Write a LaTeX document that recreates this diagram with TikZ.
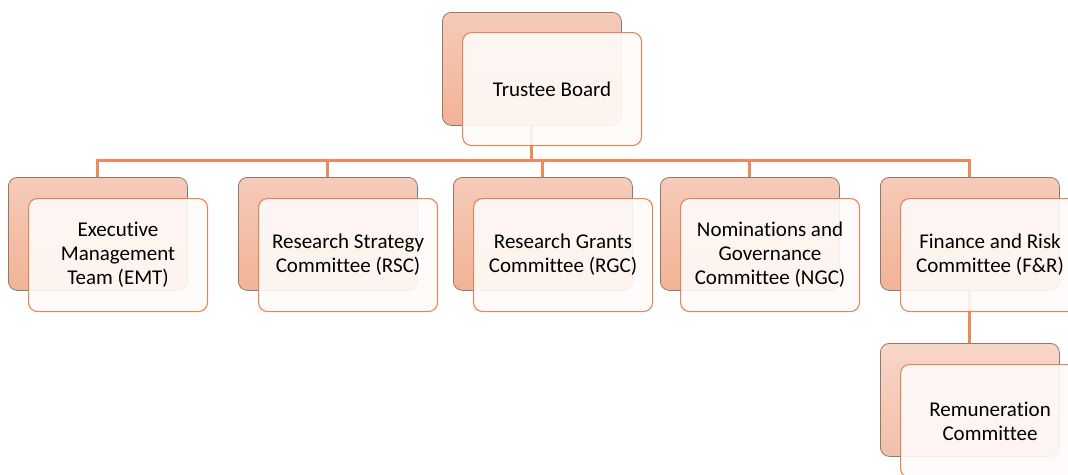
\documentclass[tikz,border=0pt]{standalone}
\usepackage{fontspec}
\setmainfont{Carlito}[Ligatures=NoCommon]
\usetikzlibrary{backgrounds}
\definecolor{backtop}{HTML}{F5CBB9}
\definecolor{backbot}{HTML}{F2B396}
\definecolor{backtopl}{HTML}{F7D6C8}
\definecolor{backbotl}{HTML}{F3C0A9}
\definecolor{backborder}{HTML}{8A7A72}
\definecolor{frontborder}{HTML}{E98450}
\definecolor{frontfill}{HTML}{FFFBF9}
\definecolor{linkcol}{HTML}{EE8A58}
\tikzset{
  backbox/.style={draw=backborder, line width=0.8pt, rounded corners=9pt,
    top color=backtop, bottom color=backbot, minimum width=179pt,
    minimum height=113pt, anchor=north west, inner sep=0pt},
  backboxl/.style={backbox, top color=backtopl, bottom color=backbotl},
  frontbox/.style={draw=frontborder, line width=1.1pt, rounded corners=9pt,
    fill=frontfill, fill opacity=0.9, text opacity=1, minimum width=179pt,
    minimum height=113pt, anchor=north west, inner sep=0pt, align=center,
    text=black, font=\fontsize{21}{24}\selectfont},
  link/.style={draw=linkcol, line width=3pt}
}
\begin{document}
\begin{tikzpicture}[x=1pt,y=-1pt]
\useasboundingbox (0,0) rectangle (1068,474);
\clip (0,0) rectangle (1068,474);
% top
\node[backbox] (b0) at (442,12) {};
\node[frontbox] (f0) at (462,32) {Trustee Board};
% children
\node[backbox] (b1) at (8,177) {};
\node[frontbox] (f1) at (28,198) {Executive\\Management\\Team (EMT)};
\node[backbox] (b2) at (238,177) {};
\node[frontbox] (f2) at (258,198) {Research Strategy\\Committee (RSC)};
\node[backbox] (b3) at (453,177) {};
\node[frontbox] (f3) at (473,198) {Research Grants\\Committee (RGC)};
\node[backbox] (b4) at (660,177) {};
\node[frontbox] (f4) at (680,198) {Nominations and\\Governance\\Committee (NGC)};
\node[backbox] (b5) at (880,177) {};
\node[frontbox] (f5) at (900,198) {Finance and Risk\\Committee (F\&R)};
\node[backboxl] (b6) at (880,343) {};
\node[frontbox] (f6) at (900,364) {Remuneration\\Committee};
\coordinate (bus) at (531.5,160);
\begin{pgfonlayer}{background}
\draw[link] (b0.south) -- (b0.south |- bus);
\draw[link] ([xshift=-1.5pt]b1.north |- bus) -- ([xshift=1.5pt]b5.north |- bus);
\foreach \i in {1,...,5}{
  \draw[link] ([yshift=1.5pt]b\i.north |- bus) -- (b\i.north);
}
\draw[link] (b5.south) -- (b6.north);
\end{pgfonlayer}
\end{tikzpicture}
\end{document}
